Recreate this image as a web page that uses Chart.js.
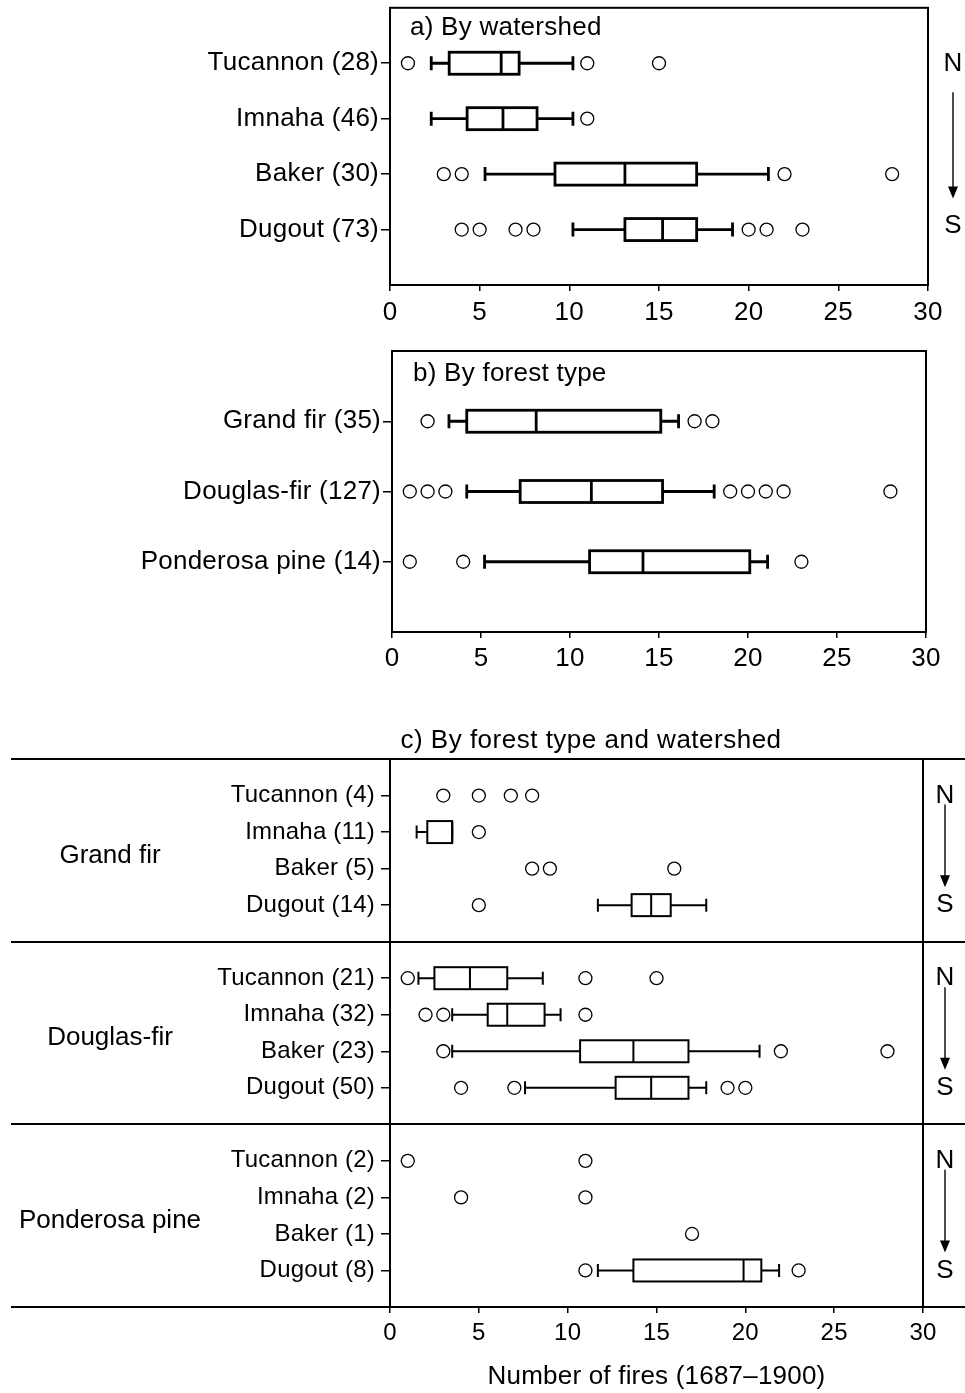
<!DOCTYPE html>
<html>
<head>
<meta charset="utf-8">
<script src="https://cdn.jsdelivr.net/npm/chart.js@4.4.1/dist/chart.umd.min.js"></script>
<style>
  html, body { margin: 0; padding: 0; background: #fff; }
  #page { position: relative; width: 965px; height: 1393px; }
  canvas { position: absolute; left: 0; }
</style>
</head>
<body>
<div id="page">
  <canvas id="chartA" width="965" height="340" style="top:0px"></canvas>
  <canvas id="chartB" width="965" height="350" style="top:340px"></canvas>
  <canvas id="chartC" width="965" height="703" style="top:690px"></canvas>
</div>
<script>
// box stats: [lower whisker, q1, median, q3, upper whisker]
const xTicks = [0, 5, 10, 15, 20, 25, 30];

// a) by watershed
const watershedLabels = ['Tucannon (28)', 'Imnaha (46)', 'Baker (30)', 'Dugout (73)'];
const watershedStats = [
  [2.3, 3.3, 6.2, 7.2, 10.2],
  [2.3, 4.3, 6.3, 8.2, 10.2],
  [5.3, 9.2, 13.1, 17.1, 21.1],
  [10.2, 13.1, 15.2, 17.1, 19.1]
];
const watershedOutliers = [
  [1, 11, 15],
  [11],
  [3, 4, 22, 28],
  [4, 5, 7, 8, 20, 21, 23]
];

// b) by forest type
const forestLabels = ['Grand fir (35)', 'Douglas-fir (127)', 'Ponderosa pine (14)'];
const forestStats = [
  [3.2, 4.2, 8.1, 15.1, 16.1],
  [4.2, 7.2, 11.2, 15.2, 18.1],
  [5.2, 11.1, 14.1, 20.1, 21.1]
];
const forestOutliers = [
  [2, 17, 18],
  [1, 2, 3, 19, 20, 21, 22, 28],
  [1, 4, 23]
];

// c) by forest type and watershed
const groupNames = ['Grand fir', 'Douglas-fir', 'Ponderosa pine'];
const comboLabels = [
  'Tucannon (4)', 'Imnaha (11)', 'Baker (5)', 'Dugout (14)',
  'Tucannon (21)', 'Imnaha (32)', 'Baker (23)', 'Dugout (50)',
  'Tucannon (2)', 'Imnaha (2)', 'Baker (1)', 'Dugout (8)'
];
const comboStats = [
  null, [1.5, 2.1, 3.5, 3.5, 3.5], null, [11.7, 13.6, 14.7, 15.8, 17.8],
  [1.6, 2.5, 4.5, 6.6, 8.6], [3.5, 5.5, 6.6, 8.7, 9.6], [3.5, 10.7, 13.7, 16.8, 20.8], [7.6, 12.7, 14.7, 16.8, 17.8],
  null, null, null, [11.7, 13.7, 19.9, 20.9, 21.9]
];
const comboOutliers = [
  [3, 5, 6.8, 8], [5], [8, 9, 16], [5],
  [1, 11, 15], [2, 3, 11], [3, 22, 28], [4, 7, 19, 20],
  [1, 11], [4, 11], [17], [11, 23]
];

// row positions on the y scale (gap row between forest groups in c)
const watershedRows = watershedLabels.map((_, i) => i + 1);
const forestRows = forestLabels.map((_, i) => i + 1);
const comboRows = comboLabels.map((_, i) => Math.floor(i / 4) * 5 + (i % 4) + 1);

Chart.defaults.font.family = "'Liberation Sans', Arial, sans-serif";
Chart.defaults.color = '#000';

function outlierPoints(outliers, rows) {
  return outliers.flatMap((vals, i) => vals.map(v => ({ x: v, y: rows[i] })));
}

// draws the boxes and whiskers through the chart scales
const boxPlot = {
  id: 'boxPlot',
  beforeDatasetsDraw(chart, args, opts) {
    const { ctx } = chart;
    const xs = chart.scales.x, ys = chart.scales.y;
    ctx.save();
    ctx.strokeStyle = '#000';
    ctx.lineWidth = opts.lineWidth;
    opts.stats.forEach((s, i) => {
      if (!s) return;
      const y = ys.getPixelForValue(opts.rows[i]);
      const [lo, q1, md, q3, hi] = s.map(v => xs.getPixelForValue(v));
      const h = opts.boxHalf, c = opts.capHalf;
      ctx.beginPath();
      ctx.moveTo(lo, y); ctx.lineTo(q1, y);
      ctx.moveTo(q3, y); ctx.lineTo(hi, y);
      ctx.moveTo(lo, y - c); ctx.lineTo(lo, y + c);
      ctx.moveTo(hi, y - c); ctx.lineTo(hi, y + c);
      ctx.stroke();
      ctx.fillStyle = '#fff';
      ctx.fillRect(q1, y - h, q3 - q1, 2 * h);
      ctx.strokeRect(q1, y - h, q3 - q1, 2 * h);
      ctx.beginPath();
      ctx.moveTo(md, y - h); ctx.lineTo(md, y + h);
      ctx.stroke();
    });
    ctx.restore();
  }
};

function drawArrow(ctx, x, nY, sY, startGap, tipGap) {
  ctx.save();
  ctx.fillStyle = '#000';
  ctx.strokeStyle = '#000';
  ctx.font = "26px 'Liberation Sans', Arial";
  ctx.letterSpacing = '0px';
  ctx.textAlign = 'center';
  ctx.textBaseline = 'middle';
  ctx.fillText('N', x, nY);
  ctx.fillText('S', x, sY);
  const tip = sY - tipGap;
  ctx.lineWidth = 1.4;
  ctx.beginPath();
  ctx.moveTo(x, nY + startGap);
  ctx.lineTo(x, tip - 10);
  ctx.stroke();
  ctx.beginPath();
  ctx.moveTo(x - 5, tip - 12);
  ctx.lineTo(x + 5, tip - 12);
  ctx.lineTo(x, tip);
  ctx.closePath();
  ctx.fill();
  ctx.restore();
}

// frame, titles, N/S arrows and group separators
const decor = {
  id: 'decor',
  beforeDraw(chart, args, opts) {
    chart.ctx.letterSpacing = opts.spacing || '0px';
  },
  afterDraw(chart, args, opts) {
    const { ctx, chartArea: a } = chart;
    const ys = chart.scales.y;
    ctx.save();
    ctx.strokeStyle = '#000';
    ctx.fillStyle = '#000';
    ctx.lineWidth = 2;
    if (opts.frame) {
      ctx.strokeRect(a.left, a.top, a.right - a.left, a.bottom - a.top);
    }
    if (opts.title) {
      ctx.font = "26px 'Liberation Sans', Arial";
      ctx.letterSpacing = opts.titleSpacing || '0px';
      ctx.textAlign = opts.titleAlign || 'left';
      ctx.textBaseline = 'middle';
      ctx.fillText(opts.title, opts.titleX(a), opts.titleY(a));
    }
    if (opts.separators) {
      ctx.beginPath();
      opts.separators.forEach(v => {
        const y = Math.round(ys.getPixelForValue(v));
        ctx.moveTo(11, y); ctx.lineTo(chart.width, y);
      });
      ctx.moveTo(a.right, a.top); ctx.lineTo(a.right, a.bottom);
      ctx.stroke();
    }
    if (opts.groups) {
      ctx.font = "26px 'Liberation Sans', Arial";
      ctx.letterSpacing = '0px';
      ctx.textAlign = 'center';
      ctx.textBaseline = 'middle';
      opts.groups.forEach((g, i) => {
        ctx.fillText(g, 110, ys.getPixelForValue(i * 5 + 2.5) + 5);
      });
    }
    ctx.restore();
    (opts.arrows || []).forEach(([n, s]) => {
      drawArrow(ctx, a.right + opts.arrowOffset, ys.getPixelForValue(n) + opts.nShift,
        ys.getPixelForValue(s) + opts.sShift, opts.startGap, opts.tipGap);
    });
  }
};

function makeScales(cfg) {
  return {
    x: {
      type: 'linear', min: 0, max: 30,
      afterBuildTicks: s => { s.ticks = xTicks.map(v => ({ value: v })); },
      ticks: { font: { size: cfg.xFont }, color: '#000', padding: cfg.xPad, maxRotation: 0, autoSkip: false },
      grid: { drawOnChartArea: false, tickLength: 6, color: '#000', lineWidth: 1.5 },
      border: { display: true, color: '#000', width: 2 },
      title: cfg.xTitle ? { display: true, text: cfg.xTitle, font: { size: 26 }, color: '#000', padding: { top: 0, bottom: 1 } } : { display: false },
      afterFit: s => { s.height = cfg.xHeight; s.paddingLeft = 0; s.paddingRight = 0; }
    },
    y: {
      type: 'linear', min: 0, max: cfg.yMax, reverse: true,
      afterBuildTicks: s => { s.ticks = cfg.rows.map(v => ({ value: v })); },
      ticks: { callback: (v, i) => cfg.labels[i], font: { size: cfg.yFont }, color: '#000', padding: cfg.yPad, autoSkip: false },
      grid: { drawOnChartArea: false, tickLength: 9, color: '#000', lineWidth: 1.5 },
      border: { display: true, color: '#000', width: 2 },
      afterFit: s => { s.width = cfg.yWidth; s.paddingTop = 0; s.paddingBottom = 0; }
    }
  };
}

function outlierDataset(outliers, rows) {
  return {
    data: outlierPoints(outliers, rows),
    pointStyle: 'circle',
    pointRadius: 6.5,
    pointBorderWidth: 1.3,
    borderColor: '#000',
    backgroundColor: '#fff',
    showLine: false
  };
}

// panel a
new Chart(document.getElementById('chartA'), {
  type: 'scatter',
  data: { datasets: [outlierDataset(watershedOutliers, watershedRows)] },
  options: {
    responsive: false, animation: false,
    layout: { padding: { top: 7, right: 37, left: 0, bottom: 0 } },
    scales: makeScales({ rows: watershedRows, labels: watershedLabels, yMax: 5, yWidth: 390, xHeight: 55, xFont: 26, yFont: 26, xPad: 6, yPad: 2 }),
    plugins: {
      legend: { display: false }, tooltip: { enabled: false },
      boxPlot: { stats: watershedStats, rows: watershedRows, lineWidth: 2.8, boxHalf: 11, capHalf: 7 },
      decor: {
        spacing: '0.25px', frame: true, title: 'a) By watershed', titleSpacing: '0.25px',
        titleX: a => a.left + 20, titleY: a => a.top + 20,
        arrows: [[1, 4]], arrowOffset: 25, nShift: 1, sShift: -4, startGap: 28, tipGap: 27
      }
    }
  },
  plugins: [boxPlot, decor]
});

// panel b
new Chart(document.getElementById('chartB'), {
  type: 'scatter',
  data: { datasets: [outlierDataset(forestOutliers, forestRows)] },
  options: {
    responsive: false, animation: false,
    layout: { padding: { top: 11, right: 39, left: 0, bottom: 0 } },
    scales: makeScales({ rows: forestRows, labels: forestLabels, yMax: 4, yWidth: 392, xHeight: 58, xFont: 26, yFont: 26, xPad: 5, yPad: 2 }),
    plugins: {
      legend: { display: false }, tooltip: { enabled: false },
      boxPlot: { stats: forestStats, rows: forestRows, lineWidth: 2.8, boxHalf: 11, capHalf: 7 },
      decor: {
        spacing: '0.25px', frame: true, title: 'b) By forest type', titleSpacing: '0.25px',
        titleX: a => a.left + 21, titleY: a => a.top + 23
      }
    }
  },
  plugins: [boxPlot, decor]
});

// panel c
new Chart(document.getElementById('chartC'), {
  type: 'scatter',
  data: { datasets: [outlierDataset(comboOutliers, comboRows)] },
  options: {
    responsive: false, animation: false,
    layout: { padding: { top: 69, right: 42, left: 0, bottom: 0 } },
    scales: makeScales({ rows: comboRows, labels: comboLabels, yMax: 15, yWidth: 390, xHeight: 86, xFont: 24, yFont: 24, xPad: 6, yPad: 6, xTitle: 'Number of fires (1687\u20131900)' }),
    plugins: {
      legend: { display: false }, tooltip: { enabled: false },
      boxPlot: { stats: comboStats, rows: comboRows, lineWidth: 2, boxHalf: 11, capHalf: 6.5 },
      decor: {
        spacing: '0.2px', title: 'c) By forest type and watershed', titleAlign: 'center', titleSpacing: '0.5px',
        titleX: a => 591, titleY: a => a.top - 18,
        separators: [0, 5, 10, 15], groups: groupNames,
        arrows: [[1, 4], [6, 9], [11, 14]], arrowOffset: 22, nShift: 0, sShift: 0, startGap: 9, tipGap: 18
      }
    }
  },
  plugins: [boxPlot, decor]
});
</script>
</body>
</html>
